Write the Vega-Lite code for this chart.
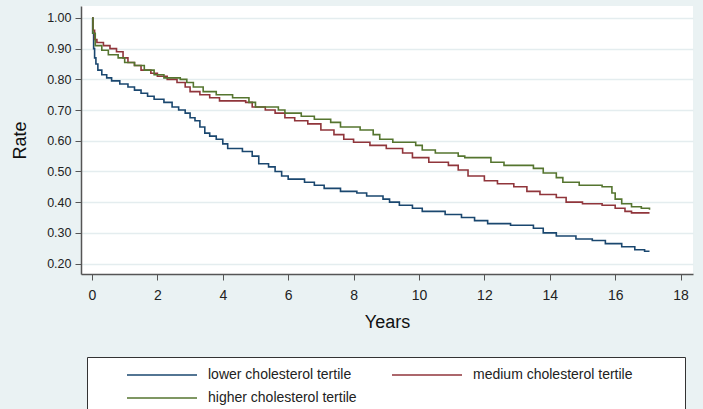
{
  "$schema": "https://vega.github.io/schema/vega-lite/v6.json",
  "width": 612,
  "height": 268,
  "autosize": {"type": "none"},
  "padding": {"left": 81, "top": 6, "right": 10, "bottom": 135},
  "background": "#EAF2F3",
  "config": {
    "view": {"fill": "white", "stroke": null},
    "font": "Liberation Sans"
  },
  "datasets": {
    "km": [
      {"g": "lower cholesterol tertile", "t": 0, "r": 1.0},
      {"g": "lower cholesterol tertile", "t": 0.02, "r": 0.95},
      {"g": "lower cholesterol tertile", "t": 0.05, "r": 0.9},
      {"g": "lower cholesterol tertile", "t": 0.08, "r": 0.87},
      {"g": "lower cholesterol tertile", "t": 0.12, "r": 0.85},
      {"g": "lower cholesterol tertile", "t": 0.18, "r": 0.83},
      {"g": "lower cholesterol tertile", "t": 0.3, "r": 0.815},
      {"g": "lower cholesterol tertile", "t": 0.45, "r": 0.805},
      {"g": "lower cholesterol tertile", "t": 0.6, "r": 0.795},
      {"g": "lower cholesterol tertile", "t": 0.85, "r": 0.785},
      {"g": "lower cholesterol tertile", "t": 1.1, "r": 0.775},
      {"g": "lower cholesterol tertile", "t": 1.3, "r": 0.765},
      {"g": "lower cholesterol tertile", "t": 1.5, "r": 0.755},
      {"g": "lower cholesterol tertile", "t": 1.7, "r": 0.745},
      {"g": "lower cholesterol tertile", "t": 1.9, "r": 0.735},
      {"g": "lower cholesterol tertile", "t": 2.2, "r": 0.725},
      {"g": "lower cholesterol tertile", "t": 2.45, "r": 0.71},
      {"g": "lower cholesterol tertile", "t": 2.65, "r": 0.7},
      {"g": "lower cholesterol tertile", "t": 2.85, "r": 0.69},
      {"g": "lower cholesterol tertile", "t": 3.0, "r": 0.675},
      {"g": "lower cholesterol tertile", "t": 3.15, "r": 0.665},
      {"g": "lower cholesterol tertile", "t": 3.3, "r": 0.645},
      {"g": "lower cholesterol tertile", "t": 3.45, "r": 0.625},
      {"g": "lower cholesterol tertile", "t": 3.6, "r": 0.615},
      {"g": "lower cholesterol tertile", "t": 3.8, "r": 0.605},
      {"g": "lower cholesterol tertile", "t": 4.0, "r": 0.59},
      {"g": "lower cholesterol tertile", "t": 4.15, "r": 0.575},
      {"g": "lower cholesterol tertile", "t": 4.6, "r": 0.565},
      {"g": "lower cholesterol tertile", "t": 4.9, "r": 0.55},
      {"g": "lower cholesterol tertile", "t": 5.1, "r": 0.525},
      {"g": "lower cholesterol tertile", "t": 5.4, "r": 0.515},
      {"g": "lower cholesterol tertile", "t": 5.6, "r": 0.5},
      {"g": "lower cholesterol tertile", "t": 5.8, "r": 0.485},
      {"g": "lower cholesterol tertile", "t": 6.0, "r": 0.475},
      {"g": "lower cholesterol tertile", "t": 6.5, "r": 0.465},
      {"g": "lower cholesterol tertile", "t": 6.8, "r": 0.455},
      {"g": "lower cholesterol tertile", "t": 7.1, "r": 0.445},
      {"g": "lower cholesterol tertile", "t": 7.6, "r": 0.435},
      {"g": "lower cholesterol tertile", "t": 8.1, "r": 0.43},
      {"g": "lower cholesterol tertile", "t": 8.4, "r": 0.42},
      {"g": "lower cholesterol tertile", "t": 8.9, "r": 0.41},
      {"g": "lower cholesterol tertile", "t": 9.1, "r": 0.4},
      {"g": "lower cholesterol tertile", "t": 9.4, "r": 0.39},
      {"g": "lower cholesterol tertile", "t": 9.8, "r": 0.38},
      {"g": "lower cholesterol tertile", "t": 10.1, "r": 0.37},
      {"g": "lower cholesterol tertile", "t": 10.8, "r": 0.36},
      {"g": "lower cholesterol tertile", "t": 11.3, "r": 0.35},
      {"g": "lower cholesterol tertile", "t": 11.7, "r": 0.34},
      {"g": "lower cholesterol tertile", "t": 12.1, "r": 0.33},
      {"g": "lower cholesterol tertile", "t": 12.8, "r": 0.325},
      {"g": "lower cholesterol tertile", "t": 13.5, "r": 0.315},
      {"g": "lower cholesterol tertile", "t": 13.8, "r": 0.3},
      {"g": "lower cholesterol tertile", "t": 14.2, "r": 0.29},
      {"g": "lower cholesterol tertile", "t": 14.8, "r": 0.28},
      {"g": "lower cholesterol tertile", "t": 15.3, "r": 0.275},
      {"g": "lower cholesterol tertile", "t": 15.7, "r": 0.265},
      {"g": "lower cholesterol tertile", "t": 16.2, "r": 0.255},
      {"g": "lower cholesterol tertile", "t": 16.6, "r": 0.245},
      {"g": "lower cholesterol tertile", "t": 16.9, "r": 0.24},
      {"g": "lower cholesterol tertile", "t": 17.05, "r": 0.24},
      {"g": "medium cholesterol tertile", "t": 0, "r": 1.0},
      {"g": "medium cholesterol tertile", "t": 0.03, "r": 0.96},
      {"g": "medium cholesterol tertile", "t": 0.08, "r": 0.93},
      {"g": "medium cholesterol tertile", "t": 0.15, "r": 0.92},
      {"g": "medium cholesterol tertile", "t": 0.35, "r": 0.91},
      {"g": "medium cholesterol tertile", "t": 0.55, "r": 0.9},
      {"g": "medium cholesterol tertile", "t": 0.75, "r": 0.89},
      {"g": "medium cholesterol tertile", "t": 0.95, "r": 0.87},
      {"g": "medium cholesterol tertile", "t": 1.1, "r": 0.855},
      {"g": "medium cholesterol tertile", "t": 1.3, "r": 0.845},
      {"g": "medium cholesterol tertile", "t": 1.5, "r": 0.83},
      {"g": "medium cholesterol tertile", "t": 1.8, "r": 0.82},
      {"g": "medium cholesterol tertile", "t": 2.0, "r": 0.81},
      {"g": "medium cholesterol tertile", "t": 2.3, "r": 0.8},
      {"g": "medium cholesterol tertile", "t": 2.6, "r": 0.79},
      {"g": "medium cholesterol tertile", "t": 2.85, "r": 0.775},
      {"g": "medium cholesterol tertile", "t": 3.0, "r": 0.76},
      {"g": "medium cholesterol tertile", "t": 3.3, "r": 0.75},
      {"g": "medium cholesterol tertile", "t": 3.6, "r": 0.74},
      {"g": "medium cholesterol tertile", "t": 3.9, "r": 0.73},
      {"g": "medium cholesterol tertile", "t": 4.7, "r": 0.725},
      {"g": "medium cholesterol tertile", "t": 4.9, "r": 0.71},
      {"g": "medium cholesterol tertile", "t": 5.3, "r": 0.7},
      {"g": "medium cholesterol tertile", "t": 5.6, "r": 0.69},
      {"g": "medium cholesterol tertile", "t": 5.9, "r": 0.675},
      {"g": "medium cholesterol tertile", "t": 6.2, "r": 0.665},
      {"g": "medium cholesterol tertile", "t": 6.6, "r": 0.655},
      {"g": "medium cholesterol tertile", "t": 7.0, "r": 0.635},
      {"g": "medium cholesterol tertile", "t": 7.4, "r": 0.62},
      {"g": "medium cholesterol tertile", "t": 7.7, "r": 0.605},
      {"g": "medium cholesterol tertile", "t": 8.0, "r": 0.595},
      {"g": "medium cholesterol tertile", "t": 8.5, "r": 0.585},
      {"g": "medium cholesterol tertile", "t": 9.0, "r": 0.575},
      {"g": "medium cholesterol tertile", "t": 9.5, "r": 0.56},
      {"g": "medium cholesterol tertile", "t": 9.8, "r": 0.545},
      {"g": "medium cholesterol tertile", "t": 10.3, "r": 0.53},
      {"g": "medium cholesterol tertile", "t": 10.9, "r": 0.52},
      {"g": "medium cholesterol tertile", "t": 11.2, "r": 0.505},
      {"g": "medium cholesterol tertile", "t": 11.5, "r": 0.485},
      {"g": "medium cholesterol tertile", "t": 12.0, "r": 0.47},
      {"g": "medium cholesterol tertile", "t": 12.4, "r": 0.46},
      {"g": "medium cholesterol tertile", "t": 12.9, "r": 0.45},
      {"g": "medium cholesterol tertile", "t": 13.3, "r": 0.435},
      {"g": "medium cholesterol tertile", "t": 13.7, "r": 0.425},
      {"g": "medium cholesterol tertile", "t": 14.2, "r": 0.415},
      {"g": "medium cholesterol tertile", "t": 14.5, "r": 0.4},
      {"g": "medium cholesterol tertile", "t": 15.0, "r": 0.395},
      {"g": "medium cholesterol tertile", "t": 15.6, "r": 0.39},
      {"g": "medium cholesterol tertile", "t": 16.0, "r": 0.38},
      {"g": "medium cholesterol tertile", "t": 16.3, "r": 0.37},
      {"g": "medium cholesterol tertile", "t": 16.5, "r": 0.365},
      {"g": "medium cholesterol tertile", "t": 17.05, "r": 0.365},
      {"g": "higher cholesterol tertile", "t": 0, "r": 1.0},
      {"g": "higher cholesterol tertile", "t": 0.03, "r": 0.95},
      {"g": "higher cholesterol tertile", "t": 0.1, "r": 0.91},
      {"g": "higher cholesterol tertile", "t": 0.3, "r": 0.895},
      {"g": "higher cholesterol tertile", "t": 0.5, "r": 0.88},
      {"g": "higher cholesterol tertile", "t": 0.8, "r": 0.87},
      {"g": "higher cholesterol tertile", "t": 1.0, "r": 0.855},
      {"g": "higher cholesterol tertile", "t": 1.3, "r": 0.845},
      {"g": "higher cholesterol tertile", "t": 1.6, "r": 0.83},
      {"g": "higher cholesterol tertile", "t": 1.9, "r": 0.815},
      {"g": "higher cholesterol tertile", "t": 2.2, "r": 0.805},
      {"g": "higher cholesterol tertile", "t": 2.7, "r": 0.8},
      {"g": "higher cholesterol tertile", "t": 2.9, "r": 0.79},
      {"g": "higher cholesterol tertile", "t": 3.1, "r": 0.775},
      {"g": "higher cholesterol tertile", "t": 3.4, "r": 0.76},
      {"g": "higher cholesterol tertile", "t": 3.8, "r": 0.75},
      {"g": "higher cholesterol tertile", "t": 4.3, "r": 0.74},
      {"g": "higher cholesterol tertile", "t": 4.8, "r": 0.725},
      {"g": "higher cholesterol tertile", "t": 5.0, "r": 0.71},
      {"g": "higher cholesterol tertile", "t": 5.7, "r": 0.7},
      {"g": "higher cholesterol tertile", "t": 5.9, "r": 0.69},
      {"g": "higher cholesterol tertile", "t": 6.4, "r": 0.68},
      {"g": "higher cholesterol tertile", "t": 6.8, "r": 0.67},
      {"g": "higher cholesterol tertile", "t": 7.3, "r": 0.66},
      {"g": "higher cholesterol tertile", "t": 7.6, "r": 0.645},
      {"g": "higher cholesterol tertile", "t": 8.2, "r": 0.635},
      {"g": "higher cholesterol tertile", "t": 8.6, "r": 0.62},
      {"g": "higher cholesterol tertile", "t": 8.8, "r": 0.605},
      {"g": "higher cholesterol tertile", "t": 9.2, "r": 0.595},
      {"g": "higher cholesterol tertile", "t": 9.9, "r": 0.585},
      {"g": "higher cholesterol tertile", "t": 10.1, "r": 0.57},
      {"g": "higher cholesterol tertile", "t": 10.5, "r": 0.56},
      {"g": "higher cholesterol tertile", "t": 11.2, "r": 0.55},
      {"g": "higher cholesterol tertile", "t": 11.4, "r": 0.545},
      {"g": "higher cholesterol tertile", "t": 12.2, "r": 0.53},
      {"g": "higher cholesterol tertile", "t": 12.6, "r": 0.52},
      {"g": "higher cholesterol tertile", "t": 13.5, "r": 0.51},
      {"g": "higher cholesterol tertile", "t": 13.8, "r": 0.495},
      {"g": "higher cholesterol tertile", "t": 14.2, "r": 0.48},
      {"g": "higher cholesterol tertile", "t": 14.4, "r": 0.465},
      {"g": "higher cholesterol tertile", "t": 14.9, "r": 0.455},
      {"g": "higher cholesterol tertile", "t": 15.6, "r": 0.45},
      {"g": "higher cholesterol tertile", "t": 15.9, "r": 0.43},
      {"g": "higher cholesterol tertile", "t": 16.0, "r": 0.41},
      {"g": "higher cholesterol tertile", "t": 16.2, "r": 0.395},
      {"g": "higher cholesterol tertile", "t": 16.5, "r": 0.385},
      {"g": "higher cholesterol tertile", "t": 16.8, "r": 0.38},
      {"g": "higher cholesterol tertile", "t": 17.05, "r": 0.375}
    ]
  },
  "data": {"name": "km"},
  "mark": {"type": "line", "interpolate": "step-after", "strokeWidth": 1.6, "clip": true},
  "encoding": {
    "x": {
      "field": "t",
      "type": "quantitative",
      "scale": {"domain": [-0.336, 18.38], "nice": false, "zero": false},
      "axis": {
        "title": "Years",
        "values": [0, 2, 4, 6, 8, 10, 12, 14, 16, 18],
        "grid": false,
        "domainColor": "#555555",
        "domainWidth": 1.5,
        "tickColor": "#555555",
        "tickSize": 6,
        "labelFontSize": 14,
        "labelColor": "#222222",
        "labelPadding": 8,
        "titleFontSize": 18,
        "titleFontWeight": "normal",
        "titleColor": "#111111",
        "titlePadding": 11
      }
    },
    "y": {
      "field": "r",
      "type": "quantitative",
      "scale": {"domain": [0.166, 1.039], "nice": false, "zero": false},
      "axis": {
        "title": "Rate",
        "values": [0.2, 0.3, 0.4, 0.5, 0.6, 0.7, 0.8, 0.9, 1.0],
        "format": ".2f",
        "grid": true,
        "gridColor": "#E4EDEF",
        "gridWidth": 1.5,
        "domainColor": "#555555",
        "domainWidth": 1.5,
        "tickColor": "#555555",
        "tickSize": 6,
        "labelFontSize": 12.5,
        "labelColor": "#222222",
        "labelPadding": 4,
        "titleFontSize": 18,
        "titleFontWeight": "normal",
        "titleColor": "#111111",
        "titlePadding": 17
      }
    },
    "color": {
      "field": "g",
      "type": "nominal",
      "scale": {
        "domain": ["lower cholesterol tertile", "medium cholesterol tertile", "higher cholesterol tertile"],
        "range": ["#1A476F", "#90353B", "#55752F"]
      },
      "legend": {
        "title": "\u00a0",
        "titleOrient": "right",
        "titlePadding": 42,
        "titleFontSize": 10,
        "orient": "none",
        "legendX": 6,
        "legendY": 351,
        "direction": "horizontal",
        "columns": 2,
        "symbolType": "M-5,0L5,0",
        "symbolSize": 196,
        "symbolStrokeWidth": 1.6,
        "symbolOffset": 57,
        "labelOffset": 38,
        "labelFontSize": 14,
        "labelColor": "#222222",
        "labelLimit": 400,
        "columnPadding": 5,
        "rowPadding": 8,
        "padding": 10,
        "strokeColor": "#333333",
        "fillColor": "white"
      }
    }
  }
}
